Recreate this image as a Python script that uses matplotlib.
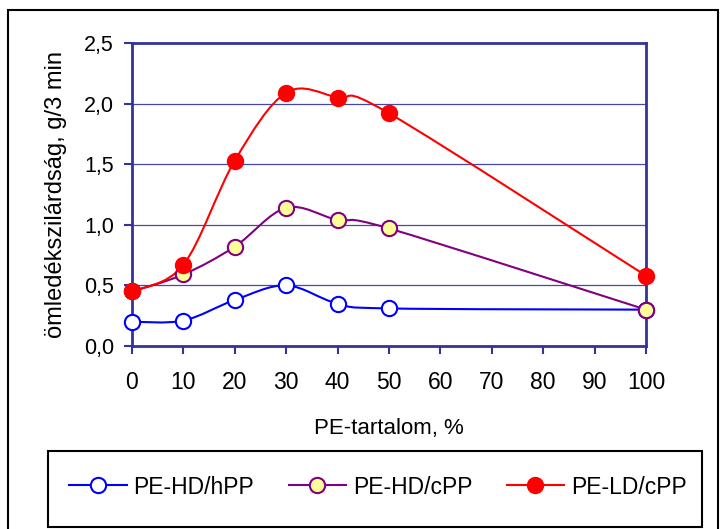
import numpy as np
import matplotlib
matplotlib.use("Agg")
import matplotlib.pyplot as plt
from matplotlib.path import Path
from matplotlib.patches import PathPatch, Rectangle
from matplotlib.lines import Line2D

plt.rcParams['font.family'] = ['Liberation Sans', 'DejaVu Sans']

# PE content, %
pe = [0, 10, 20, 30, 40, 50, 100]
hd_hpp = [0.20, 0.21, 0.38, 0.50, 0.35, 0.31, 0.30]
hd_cpp = [0.45, 0.59, 0.82, 1.14, 1.04, 0.97, 0.30]
ld_cpp = [0.45, 0.67, 1.53, 2.09, 2.05, 1.92, 0.58]

xticks = [0, 10, 20, 30, 40, 50, 60, 70, 80, 90, 100]
yticks = [0.0, 0.5, 1.0, 1.5, 2.0, 2.5]

navy = '#333399'


def smooth_path(ax, xs, ys):
    # Excel-like smoothed line: cubic Bezier segments in pixel space
    pts = ax.transData.transform(np.column_stack([xs, ys]))
    n = len(pts)
    verts = [pts[0]]
    codes = [Path.MOVETO]
    for i in range(n - 1):
        p0 = pts[i - 1] if i > 0 else pts[i]
        p1 = pts[i]
        p2 = pts[i + 1]
        p3 = pts[i + 2] if i + 2 < n else pts[i + 1]
        c1 = p1 + (p2 - p0) / 6.0
        c2 = p2 - (p3 - p1) / 6.0
        verts += [c1, c2, p2]
        codes += [Path.CURVE4] * 3
    verts = ax.transData.inverted().transform(np.array(verts))
    return Path(verts, codes)


fig = plt.figure(figsize=(7.21, 5.29), dpi=100)
ax = fig.add_axes([132 / 721, 1 - 346 / 529, 514 / 721, 303 / 529])
ax.set_xlim(0, 100)
ax.set_ylim(0, 2.5)

series = [
    (hd_hpp, 'PE-HD/hPP', '#0000FF', 'white', '#0000FF'),
    (hd_cpp, 'PE-HD/cPP', '#800080', '#FFFF99', '#800080'),
    (ld_cpp, 'PE-LD/cPP', '#FF0000', '#FF0000', '#FF0000'),
]

handles = []
for ys, lab, lc, fc, ec in series:
    path = smooth_path(ax, pe, ys)
    ax.add_patch(PathPatch(path, facecolor='none', edgecolor=lc, lw=1.5, zorder=3))
    ax.plot(pe, ys, ls='none', marker='o', ms=11, mfc=fc, mec=ec, mew=1.5,
            zorder=4, clip_on=False)
    handles.append(Line2D([], [], color=lc, lw=1.5, marker='o', ms=11,
                          mfc=fc, mec=ec, mew=1.5))

ax.set_xticks(xticks)
ax.set_xticklabels([str(t) for t in xticks])
ax.set_yticks(yticks)
ax.set_yticklabels([f"{t:.1f}".replace('.', ',') for t in yticks])

for y in yticks[1:-1]:
    ax.axhline(y, color='#4848A8', lw=0.9, zorder=1)

for s in ax.spines.values():
    s.set_color(navy)
    s.set_linewidth(2)
ax.tick_params(axis='both', direction='out', colors=navy, width=1.5, length=6,
               labelcolor='black')
ax.tick_params(axis='x', pad=12, labelsize=16.5)
ax.tick_params(axis='y', pad=7, labelsize=15.5)

ax.set_xlabel('PE-tartalom, %', fontsize=16, labelpad=17)
ax.set_ylabel('ömledékszilárdság, g/3 min', fontsize=17, labelpad=12)

# outer chart border
fig.patches.append(Rectangle((8 / 721, -0.02), 710 / 721, 1.02 - 10 / 529,
                             transform=fig.transFigure, fill=False,
                             edgecolor='black', lw=1.5))

# legend box
fig.patches.append(Rectangle((48 / 721, 2 / 529), 654 / 721, 76 / 529,
                             transform=fig.transFigure, fill=False,
                             edgecolor='black', lw=1.5))

leg = fig.legend(handles, [s[1] for s in series], ncol=3, loc='center',
                 bbox_to_anchor=(378 / 721, 1 - 487 / 529),
                 borderaxespad=0, fontsize=16.5, handlelength=2.5,
                 handletextpad=0.3, columnspacing=1.5, borderpad=0.2,
                 frameon=False)

fig.savefig('out.png', dpi=100)
